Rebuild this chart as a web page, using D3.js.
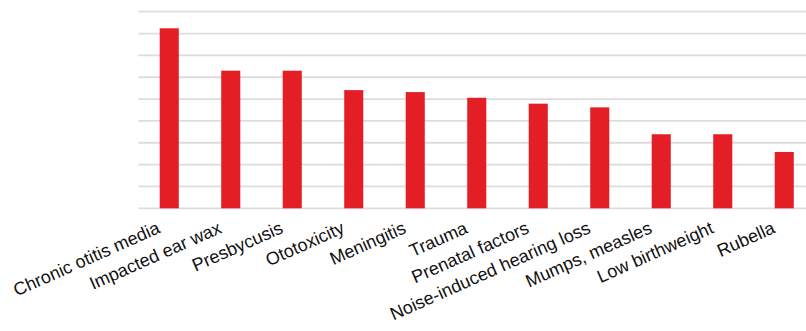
<!DOCTYPE html>
<html>
<head>
<meta charset="utf-8">
<script src="https://cdn.jsdelivr.net/npm/d3@7"></script>
<style>
  body { margin: 0; background: #fff; }
  .label { font-family: "Liberation Sans", Arial, sans-serif; font-size: 18px; fill: #111; }
</style>
</head>
<body>
<div id="chart"></div>
<script>
var svgWidth = 806;
var svgHeight = 331;

var causes = ["Chronic otitis media", "Impacted ear wax", "Presbycusis", "Ototoxicity",
  "Meningitis", "Trauma", "Prenatal factors", "Noise-induced hearing loss",
  "Mumps, measles", "Low birthweight", "Rubella"];
var values = [8.24, 6.3, 6.3, 5.41, 5.32, 5.06, 4.79, 4.62, 3.39, 3.39, 2.58];
var gridTicks = [0, 1, 2, 3, 4, 5, 6, 7, 8, 9];

var margin = { top: 11.7, left: 138.5 };
var height = 208.3 - margin.top;
var step = 61.5;

var svg = d3.select("#chart")
  .append("svg")
  .attr("width", svgWidth)
  .attr("height", svgHeight);

var chartGroup = svg.append("g")
  .attr("transform", `translate(${margin.left}, ${margin.top})`);

var xScale = d3.scaleBand()
  .domain(causes)
  .range([0, step * causes.length])
  .paddingInner(0.69)
  .paddingOuter(0.345);

var yScale = d3.scaleLinear()
  .domain([0, 9])
  .range([height, 0]);

// horizontal gridlines
chartGroup.selectAll(".grid")
  .data(gridTicks)
  .enter()
  .append("line")
  .attr("x1", 0)
  .attr("x2", svgWidth - margin.left)
  .attr("y1", d => yScale(d))
  .attr("y2", d => yScale(d))
  .attr("stroke", "#dcdcdc")
  .attr("stroke-width", 1.8);

chartGroup.selectAll("rect")
  .data(values)
  .enter()
  .append("rect")
  .attr("x", (d, i) => xScale(causes[i]))
  .attr("y", d => yScale(d))
  .attr("width", xScale.bandwidth())
  .attr("height", d => height - yScale(d))
  .attr("fill", "#e31e25");

// rotated category labels
chartGroup.selectAll(".label")
  .data(causes)
  .enter()
  .append("text")
  .attr("class", "label")
  .attr("text-anchor", "end")
  .attr("transform", d => {
    var cx = xScale(d) + xScale.bandwidth() / 2 - 8;
    return `translate(${cx}, ${height + 24}) rotate(-24)`;
  })
  .text(d => d);
</script>
</body>
</html>
